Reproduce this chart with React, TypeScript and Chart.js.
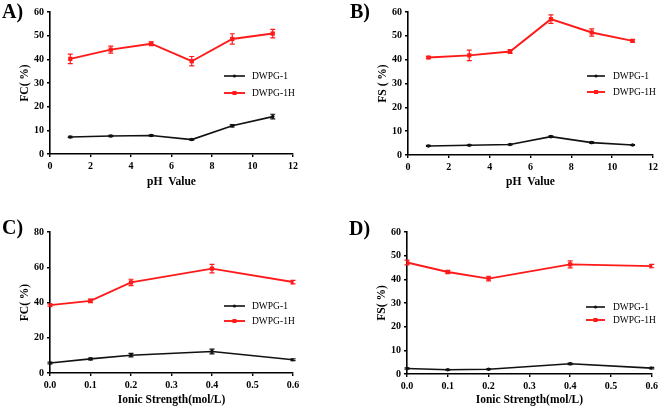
import React, { useEffect, useRef } from "react";
import { Chart, registerables } from "chart.js";

Chart.register(...registerables);

// ---------- data ----------
const phValues = [1, 3, 5, 7, 9, 11];
const ionicValues = [0, 0.1, 0.2, 0.4, 0.6];
const seriesNames = ["DWPG-1", "DWPG-1H"];

const fcPhDWPG1 = [7.2, 7.6, 7.8, 6.1, 11.9, 15.8];
const fcPhDWPG1Err = [0.3, 0.3, 0.3, 0.3, 0.5, 1.0];
const fcPhDWPG1H = [40.2, 44.1, 46.6, 39.2, 48.6, 50.9];
const fcPhDWPG1HErr = [2.0, 1.5, 0.8, 2.0, 2.2, 1.8];

const fsPhDWPG1 = [3.8, 4.1, 4.4, 7.7, 5.2, 4.2];
const fsPhDWPG1Err = [0.2, 0.2, 0.2, 0.3, 0.3, 0.2];
const fsPhDWPG1H = [40.9, 41.8, 43.4, 57.0, 51.4, 47.9];
const fsPhDWPG1HErr = [0.4, 2.2, 0.8, 1.8, 1.5, 0.5];

const fcIonDWPG1 = [5.7, 8.0, 10.1, 12.2, 7.5];
const fcIonDWPG1Err = [0.5, 0.5, 1.0, 1.3, 0.5];
const fcIonDWPG1H = [38.5, 40.9, 51.4, 59.2, 51.6];
const fcIonDWPG1HErr = [0.6, 1.0, 1.8, 2.4, 1.0];

const fsIonDWPG1 = [2.3, 1.8, 2.0, 4.3, 2.5];
const fsIonDWPG1Err = [0.3, 0.2, 0.2, 0.3, 0.3];
const fsIonDWPG1H = [47.1, 43.1, 40.3, 46.3, 45.6];
const fsIonDWPG1HErr = [1.0, 0.7, 1.0, 1.5, 0.7];

// ---------- styling ----------
const BLACK = "#111111";
const RED = "#ff1a1a";
const SERIF = "'Liberation Serif', 'Times New Roman', serif";

const errorBarPlugin = {
  id: "errorBars",
  afterDatasetsDraw(chart: any) {
    const ctx = chart.ctx;
    const xs = chart.scales.x;
    const ys = chart.scales.y;
    chart.data.datasets.forEach((ds: any) => {
      if (!ds.errors) return;
      ctx.save();
      ctx.strokeStyle = ds.borderColor;
      ctx.lineWidth = 1.2;
      ds.data.forEach((p: any, i: number) => {
        const e = ds.errors[i];
        const x = xs.getPixelForValue(p.x);
        const yt = ys.getPixelForValue(p.y + e);
        const yb = ys.getPixelForValue(p.y - e);
        ctx.beginPath();
        ctx.moveTo(x, yt);
        ctx.lineTo(x, yb);
        ctx.moveTo(x - 2.5, yt);
        ctx.lineTo(x + 2.5, yt);
        ctx.moveTo(x - 2.5, yb);
        ctx.lineTo(x + 2.5, yb);
        ctx.stroke();
      });
      ctx.restore();
    });
  },
};

const decorPlugin = {
  id: "decor",
  afterDraw(chart: any) {
    const o = chart.options.plugins.decor;
    if (!o) return;
    const ctx = chart.ctx;
    ctx.save();
    // panel letter
    ctx.fillStyle = "#000";
    ctx.font = `bold 20px ${SERIF}`;
    ctx.textBaseline = "alphabetic";
    ctx.textAlign = "left";
    ctx.fillText(o.letter, o.lx, o.ly);
    // legend
    ctx.font = `9.5px ${SERIF}`;
    ctx.textBaseline = "middle";
    chart.data.datasets.forEach((ds: any, i: number) => {
      const y = o.rows[i];
      ctx.strokeStyle = ds.borderColor;
      ctx.lineWidth = ds.borderWidth;
      ctx.beginPath();
      ctx.moveTo(o.x1, y);
      ctx.lineTo(o.x2, y);
      ctx.stroke();
      ctx.fillStyle = ds.borderColor;
      const mx = (o.x1 + o.x2) / 2;
      if (ds.pointStyle === "rect") {
        ctx.fillRect(mx - 2, y - 2, 4, 4);
      } else {
        ctx.beginPath();
        ctx.arc(mx, y, 1.6, 0, Math.PI * 2);
        ctx.fill();
      }
      ctx.fillStyle = "#000";
      ctx.fillText(ds.label, o.tx, y + 0.5);
    });
    ctx.restore();
  },
};

type PanelProps = {
  left: number;
  top: number;
  width: number;
  height: number;
  xs: number[];
  ys1: number[];
  e1: number[];
  ys2: number[];
  e2: number[];
  xMax: number;
  xStep: number;
  yMax: number;
  yStep: number;
  xTitle: string;
  yTitle: string;
  decimals: number;
  pad: { left: number; top: number; right: number };
  xBoxH: number;
  xTitlePad: number;
  decor: any;
};

function Panel(p: PanelProps) {
  const ref = useRef<HTMLCanvasElement | null>(null);
  useEffect(() => {
    if (!ref.current) return;
    const tickFont = { family: SERIF, size: 10, weight: "bold" as const };
    const titleFont = { family: SERIF, size: 11.5, weight: "bold" as const };
    const axisCommon = {
      border: { display: true, color: "#000", width: 1.6 },
      grid: {
        display: true,
        drawOnChartArea: false,
        drawTicks: true,
        tickLength: 3,
        color: "#000",
        lineWidth: 1.4,
      },
    };
    const chart = new Chart(ref.current, {
      type: "line",
      data: {
        datasets: [
          {
            label: seriesNames[0],
            data: p.xs.map((x, i) => ({ x, y: p.ys1[i] })),
            errors: p.e1,
            borderColor: BLACK,
            backgroundColor: BLACK,
            borderWidth: 1.6,
            pointStyle: "circle",
            pointRadius: 1.8,
            pointBorderWidth: 0,
            tension: 0,
          } as any,
          {
            label: seriesNames[1],
            data: p.xs.map((x, i) => ({ x, y: p.ys2[i] })),
            errors: p.e2,
            borderColor: RED,
            backgroundColor: RED,
            borderWidth: 1.9,
            pointStyle: "rect",
            pointRadius: 3,
            pointBorderWidth: 0,
            tension: 0,
          } as any,
        ],
      },
      options: {
        animation: false,
        responsive: false,
        devicePixelRatio: 1,
        layout: { padding: { left: p.pad.left, top: p.pad.top, right: p.pad.right, bottom: 0 } },
        plugins: {
          legend: { display: false },
          tooltip: { enabled: false },
          decor: p.decor,
        } as any,
        scales: {
          x: {
            type: "linear",
            min: 0,
            max: p.xMax,
            ...axisCommon,
            ticks: {
              stepSize: p.xStep,
              font: tickFont,
              color: "#000",
              padding: 3,
              maxRotation: 0,
              callback: (v: any) => Number(v).toFixed(p.decimals),
            },
            title: {
              display: true,
              text: p.xTitle,
              font: titleFont,
              color: "#000",
              padding: { top: 0, bottom: p.xTitlePad },
            },
            afterFit: (s: any) => {
              s.height = p.xBoxH;
            },
          } as any,
          y: {
            type: "linear",
            min: 0,
            max: p.yMax,
            ...axisCommon,
            ticks: {
              stepSize: p.yStep,
              font: tickFont,
              color: "#000",
              padding: 3,
            },
            title: {
              display: true,
              text: p.yTitle,
              font: titleFont,
              color: "#000",
              padding: { top: 18, bottom: 0 },
            },
            afterFit: (s: any) => {
              s.width = 50;
            },
          } as any,
        },
      },
      plugins: [errorBarPlugin, decorPlugin],
    });
    return () => chart.destroy();
  }, []);
  return (
    <canvas
      ref={ref}
      width={p.width}
      height={p.height}
      style={{ position: "absolute", left: p.left, top: p.top, width: p.width, height: p.height }}
    />
  );
}

export default function App() {
  return (
    <div
      style={{
        position: "absolute",
        left: 0,
        top: 0,
        width: 661,
        height: 407,
        background: "#fff",
        overflow: "hidden",
      }}
    >
      <Panel
        left={0}
        top={0}
        width={330}
        height={200}
        xs={phValues}
        ys1={fcPhDWPG1}
        e1={fcPhDWPG1Err}
        ys2={fcPhDWPG1H}
        e2={fcPhDWPG1HErr}
        xMax={12}
        xStep={2}
        yMax={60}
        yStep={10}
        xTitle="pH  Value"
        yTitle="FC( %)"
        decimals={0}
        pad={{ left: 0, top: 12, right: 37 }}
        xBoxH={46}
        xTitlePad={11}
        decor={{ letter: "A)", lx: 2, ly: 18, x1: 224, x2: 245, tx: 252, rows: [76, 93] }}
      />
      <Panel
        left={330}
        top={0}
        width={331}
        height={200}
        xs={phValues}
        ys1={fsPhDWPG1}
        e1={fsPhDWPG1Err}
        ys2={fsPhDWPG1H}
        e2={fsPhDWPG1HErr}
        xMax={12}
        xStep={2}
        yMax={60}
        yStep={10}
        xTitle="pH  Value"
        yTitle="FS ( %)"
        decimals={0}
        pad={{ left: 28, top: 12, right: 7 }}
        xBoxH={45}
        xTitlePad={11}
        decor={{ letter: "B)", lx: 20, ly: 18, x1: 257, x2: 275, tx: 283, rows: [76, 92] }}
      />
      <Panel
        left={0}
        top={200}
        width={330}
        height={207}
        xs={ionicValues}
        ys1={fcIonDWPG1}
        e1={fcIonDWPG1Err}
        ys2={fcIonDWPG1H}
        e2={fcIonDWPG1HErr}
        xMax={0.6}
        xStep={0.1}
        yMax={80}
        yStep={20}
        xTitle="Ionic Strength(mol/L)"
        yTitle="FC( %)"
        decimals={1}
        pad={{ left: 0, top: 32, right: 37 }}
        xBoxH={34}
        xTitlePad={0}
        decor={{ letter: "C)", lx: 2, ly: 34, x1: 224, x2: 245, tx: 252, rows: [106, 121] }}
      />
      <Panel
        left={330}
        top={200}
        width={331}
        height={207}
        xs={ionicValues}
        ys1={fsIonDWPG1}
        e1={fsIonDWPG1Err}
        ys2={fsIonDWPG1H}
        e2={fsIonDWPG1HErr}
        xMax={0.6}
        xStep={0.1}
        yMax={60}
        yStep={10}
        xTitle="Ionic Strength(mol/L)"
        yTitle="FS( %)"
        decimals={1}
        pad={{ left: 27, top: 32, right: 6 }}
        xBoxH={33}
        xTitlePad={0}
        decor={{ letter: "D)", lx: 19, ly: 35, x1: 256, x2: 275, tx: 283, rows: [107, 120] }}
      />
    </div>
  );
}
